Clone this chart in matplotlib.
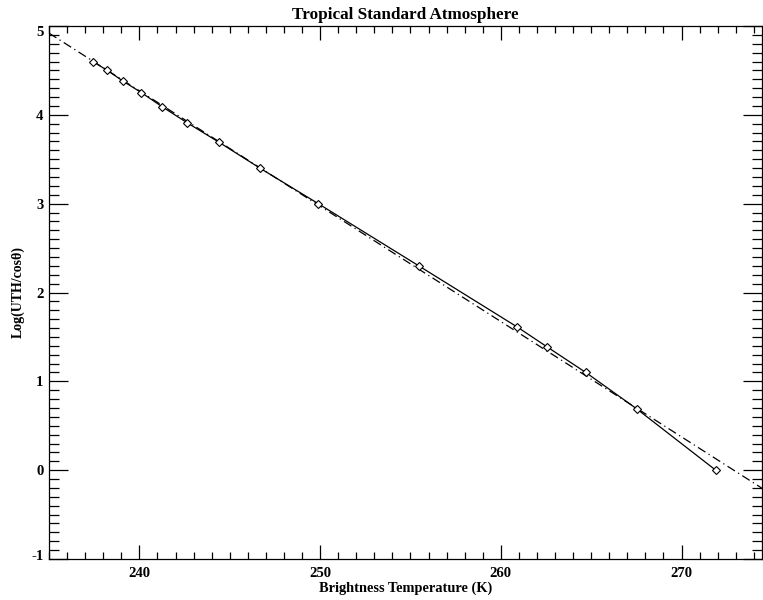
import matplotlib
matplotlib.use("Agg")
import matplotlib.pyplot as plt
import matplotlib.transforms as mtransforms
from matplotlib.ticker import MultipleLocator

# Data
tb = [237.42, 238.23, 239.09, 240.11, 241.27, 242.65, 244.42, 246.67,
      249.90, 255.46, 260.92, 262.58, 264.70, 267.52, 271.89]
log_uth = [4.60, 4.50, 4.38, 4.25, 4.09, 3.91, 3.69, 3.40,
           3.00, 2.30, 1.61, 1.385, 1.10, 0.69, 0.00]
fit_x = [235.0, 274.5]
fit_y = [4.92, -0.21]

plt.rcParams['font.family'] = ['Liberation Serif', 'DejaVu Serif']
plt.rcParams['font.weight'] = 'bold'
plt.rcParams['axes.unicode_minus'] = False

fig = plt.figure(figsize=(7.63, 6.0), dpi=100)
ax = fig.add_axes([49/763, 1-559/600, 713/763, (559-26)/600])

ax.plot(fit_x, fit_y, color='black', lw=0.9, ls=(0, (7, 3, 1, 3)))
ax.plot(tb, log_uth, color='black', lw=0.9, marker='D', ms=4.5,
        mfc='white', mec='black', mew=0.8)

ax.set_xlim(235, 274.45)
ax.set_ylim(-1, 5)
ax.xaxis.set_major_locator(MultipleLocator(10))
ax.xaxis.set_minor_locator(MultipleLocator(1))
ax.yaxis.set_major_locator(MultipleLocator(1))
ax.yaxis.set_minor_locator(MultipleLocator(0.1))

ax.tick_params(which='both', direction='in', top=True, right=True,
               labelsize=10.6, width=0.9)
ax.tick_params(axis='x', which='major', length=10, pad=6)
ax.tick_params(axis='x', which='minor', length=5)
ax.tick_params(axis='y', which='major', length=14, pad=4)
ax.tick_params(axis='y', which='minor', length=7)
for s in ax.spines.values():
    s.set_linewidth(0.9)

fig.canvas.draw()
for lab in ax.get_xticklabels() + ax.get_yticklabels():
    lab.set_fontweight('bold')
# IDL-style: end labels kept inside the axis range
for lab in ax.get_yticklabels():
    t = lab.get_text().replace('\u2212', '-')
    if t == '5':
        lab.set_transform(lab.get_transform() + mtransforms.ScaledTranslation(0, -5/100, fig.dpi_scale_trans))
    elif t == '-1':
        lab.set_transform(lab.get_transform() + mtransforms.ScaledTranslation(0, 4/100, fig.dpi_scale_trans))

ax.set_xlabel('Brightness Temperature (K)', fontsize=10.4, fontweight='bold', labelpad=1)
ax.set_ylabel('Log(UTH/cos\u03b8)', fontsize=10, fontweight='bold')
ax.yaxis.set_label_coords(-(49-25)/713, 0.5)
ax.set_title('Tropical Standard Atmosphere', fontsize=12.3, fontweight='bold', pad=5)

fig.savefig('out.png', dpi=100)
